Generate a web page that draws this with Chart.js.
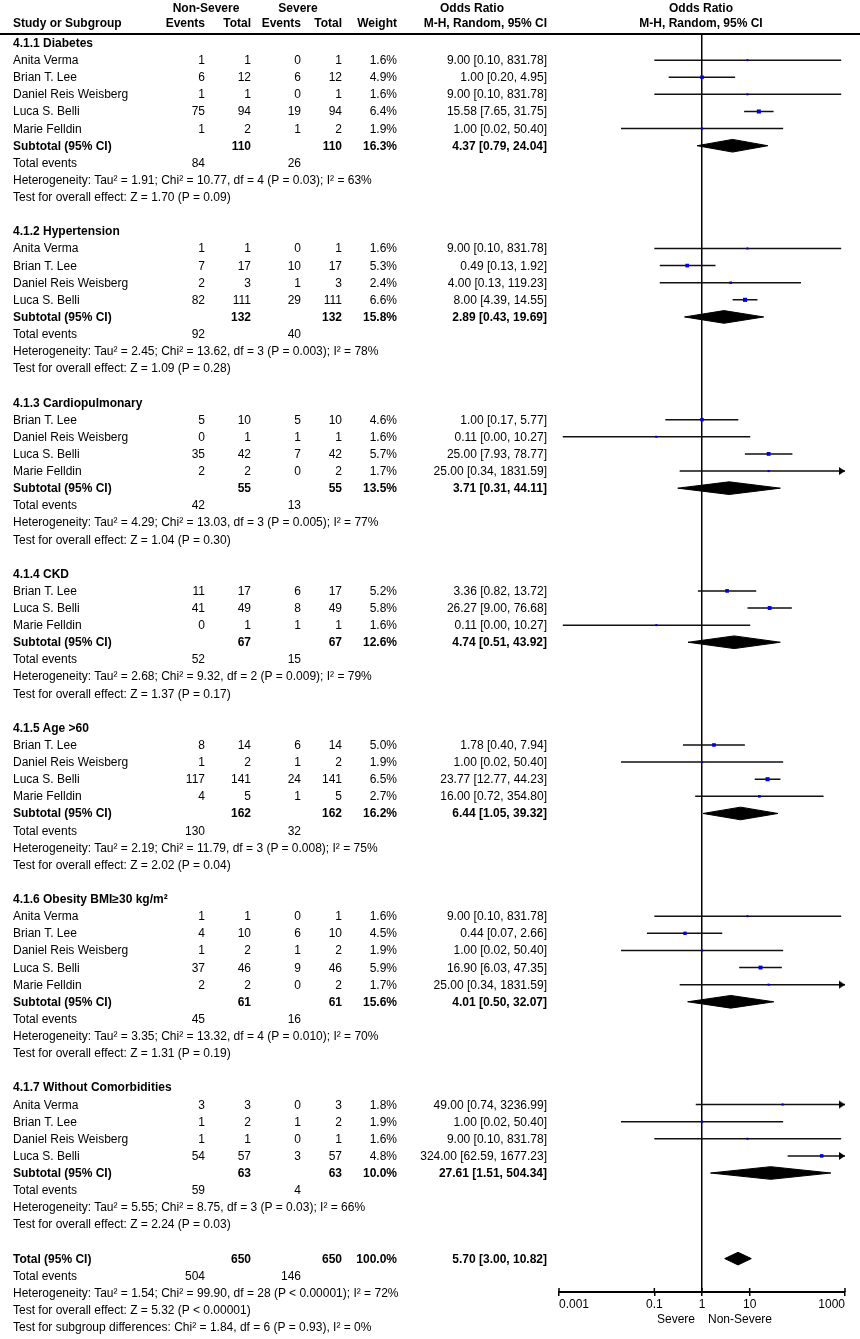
<!DOCTYPE html>
<html>
<head>
<meta charset="utf-8">
<title>Forest plot</title>
<script src="https://cdn.jsdelivr.net/npm/chart.js@4.4.0/dist/chart.umd.min.js"></script>
<style>
  body { margin: 0; background: #fff; }
  #wrap { position: relative; width: 860px; height: 1339px; overflow: hidden;
          font-family: "Liberation Sans", Arial, sans-serif; font-size: 12px; color: #000; }
  #plot { position: absolute; left: 0; top: 0; }
  .t { position: absolute; white-space: nowrap; line-height: 16px; }
  .b { font-weight: bold; }
  #rule { position: absolute; left: 0; top: 33px; width: 860px; height: 2px; background: #000; }
</style>
</head>
<body>
<div id="wrap">
  <canvas id="plot" width="860" height="1339"></canvas>
  <div id="rule"></div>
</div>
<script>
// ---- data ----
const groupTitles = ['4.1.1 Diabetes', '4.1.2 Hypertension', '4.1.3 Cardiopulmonary', '4.1.4 CKD',
  '4.1.5 Age >60', '4.1.6 Obesity BMI\u226530 kg/m\u00b2', '4.1.7 Without Comorbidities'];

const studyGroup = [0,0,0,0,0, 1,1,1,1, 2,2,2,2, 3,3,3, 4,4,4,4, 5,5,5,5,5, 6,6,6,6];
const studyNames = [
  'Anita Verma', 'Brian T. Lee', 'Daniel Reis Weisberg', 'Luca S. Belli', 'Marie Felldin',
  'Anita Verma', 'Brian T. Lee', 'Daniel Reis Weisberg', 'Luca S. Belli',
  'Brian T. Lee', 'Daniel Reis Weisberg', 'Luca S. Belli', 'Marie Felldin',
  'Brian T. Lee', 'Luca S. Belli', 'Marie Felldin',
  'Brian T. Lee', 'Daniel Reis Weisberg', 'Luca S. Belli', 'Marie Felldin',
  'Anita Verma', 'Brian T. Lee', 'Daniel Reis Weisberg', 'Luca S. Belli', 'Marie Felldin',
  'Anita Verma', 'Brian T. Lee', 'Daniel Reis Weisberg', 'Luca S. Belli'];
const nsEvents = [1,6,1,75,1, 1,7,2,82, 5,0,35,2, 11,41,0, 8,1,117,4, 1,4,1,37,2, 3,1,1,54];
const nsTotal  = [1,12,1,94,2, 1,17,3,111, 10,1,42,2, 17,49,1, 14,2,141,5, 1,10,2,46,2, 3,2,1,57];
const sEvents  = [0,6,0,19,1, 0,10,1,29, 5,1,7,0, 6,8,1, 6,1,24,1, 0,6,1,9,0, 0,1,0,3];
const sTotal   = [1,12,1,94,2, 1,17,3,111, 10,1,42,2, 17,49,1, 14,2,141,5, 1,10,2,46,2, 3,2,1,57];
const weights  = [1.6,4.9,1.6,6.4,1.9, 1.6,5.3,2.4,6.6, 4.6,1.6,5.7,1.7, 5.2,5.8,1.6,
  5.0,1.9,6.5,2.7, 1.6,4.5,1.9,5.9,1.7, 1.8,1.9,1.6,4.8];
const orVals = [9,1,9,15.58,1, 9,0.49,4,8, 1,0.11,25,25, 3.36,26.27,0.11,
  1.78,1,23.77,16, 9,0.44,1,16.9,25, 49,1,9,324];
const ciLow = [0.1,0.2,0.1,7.65,0.02, 0.1,0.13,0.13,4.39, 0.17,0.0012,7.93,0.34, 0.82,9,0.0012,
  0.4,0.02,12.77,0.72, 0.1,0.07,0.02,6.03,0.34, 0.74,0.02,0.1,62.59];
const ciHigh = [831.78,4.95,831.78,31.75,50.4, 831.78,1.92,119.23,14.55, 5.77,10.27,78.77,1831.59,
  13.72,76.68,10.27, 7.94,50.4,44.23,354.8, 831.78,2.66,50.4,47.35,1831.59,
  3236.99,50.4,831.78,1677.23];

const groupNsTotal  = [110,132,55,67,162,61,63];
const groupSTotal   = [110,132,55,67,162,61,63];
const groupWeight   = [16.3,15.8,13.5,12.6,16.2,15.6,10.0];
const groupOR       = [4.37,2.89,3.71,4.74,6.44,4.01,27.61];
const groupLow      = [0.79,0.43,0.31,0.51,1.05,0.50,1.51];
const groupHigh     = [24.04,19.69,44.11,43.92,39.32,32.07,504.34];
const groupNsEvents = [84,92,42,52,130,45,59];
const groupSEvents  = [26,40,13,15,32,16,4];
const groupHet = [
  'Heterogeneity: Tau\u00b2 = 1.91; Chi\u00b2 = 10.77, df = 4 (P = 0.03); I\u00b2 = 63%',
  'Heterogeneity: Tau\u00b2 = 2.45; Chi\u00b2 = 13.62, df = 3 (P = 0.003); I\u00b2 = 78%',
  'Heterogeneity: Tau\u00b2 = 4.29; Chi\u00b2 = 13.03, df = 3 (P = 0.005); I\u00b2 = 77%',
  'Heterogeneity: Tau\u00b2 = 2.68; Chi\u00b2 = 9.32, df = 2 (P = 0.009); I\u00b2 = 79%',
  'Heterogeneity: Tau\u00b2 = 2.19; Chi\u00b2 = 11.79, df = 3 (P = 0.008); I\u00b2 = 75%',
  'Heterogeneity: Tau\u00b2 = 3.35; Chi\u00b2 = 13.32, df = 4 (P = 0.010); I\u00b2 = 70%',
  'Heterogeneity: Tau\u00b2 = 5.55; Chi\u00b2 = 8.75, df = 3 (P = 0.03); I\u00b2 = 66%'];
const groupTest = [
  'Test for overall effect: Z = 1.70 (P = 0.09)',
  'Test for overall effect: Z = 1.09 (P = 0.28)',
  'Test for overall effect: Z = 1.04 (P = 0.30)',
  'Test for overall effect: Z = 1.37 (P = 0.17)',
  'Test for overall effect: Z = 2.02 (P = 0.04)',
  'Test for overall effect: Z = 1.31 (P = 0.19)',
  'Test for overall effect: Z = 2.24 (P = 0.03)'];

const totalNs = 650, totalS = 650, totalWeight = 100.0;
const totalOR = 5.70, totalLow = 3.00, totalHigh = 10.82;
const totalNsEvents = 504, totalSEvents = 146;
const totalHet = 'Heterogeneity: Tau\u00b2 = 1.54; Chi\u00b2 = 99.90, df = 28 (P < 0.00001); I\u00b2 = 72%';
const totalTest = 'Test for overall effect: Z = 5.32 (P < 0.00001)';
const subgroupTest = 'Test for subgroup differences: Chi\u00b2 = 1.84, df = 6 (P = 0.93), I\u00b2 = 0%';

const tickValues = [0.001, 0.1, 1, 10, 1000];
const tickLabels = ['0.001', '0.1', '1', '10', '1000'];

// ---- row layout ----
const AXIS_MIN = 0.001, AXIS_MAX = 1000;
const studyRow = [], groupRow = [];
let r = 0;
const rows = [];
groupTitles.forEach((title, g) => {
  rows.push({ kind: 'head', g: g, r: r++ });
  studyNames.forEach((n, s) => {
    if (studyGroup[s] === g) { studyRow[s] = r; rows.push({ kind: 'study', s: s, r: r++ }); }
  });
  groupRow[g] = r;
  rows.push({ kind: 'sub', g: g, r: r++ });
  rows.push({ kind: 'events', g: g, r: r++ });
  rows.push({ kind: 'het', g: g, r: r++ });
  rows.push({ kind: 'test', g: g, r: r++ });
  r++; // blank line between subgroups
});
const totalRow = r;

// ---- datasets ----
const ciData = [];
studyNames.forEach((n, s) => {
  ciData.push({ x: Math.max(ciLow[s], AXIS_MIN), y: studyRow[s] });
  ciData.push({ x: Math.min(ciHigh[s], AXIS_MAX), y: studyRow[s] });
  ciData.push({ x: 1, y: null });
});
const boxData = studyNames.map((n, s) => ({ x: orVals[s], y: studyRow[s] }));
const boxRadius = weights.map(w => 1.6 * Math.sqrt(w) * 0.7071);
const arrowData = [];
studyNames.forEach((n, s) => { if (ciHigh[s] > AXIS_MAX) arrowData.push({ x: AXIS_MAX, y: studyRow[s] }); });

// arrow head, tip at the centre of the image
const arrow = document.createElement('canvas');
arrow.width = 18; arrow.height = 10;
const actx = arrow.getContext('2d');
actx.fillStyle = '#000';
actx.beginPath(); actx.moveTo(3, 1); actx.lineTo(9, 5); actx.lineTo(3, 9); actx.closePath(); actx.fill();

const DH = 0.37; // half height of a diamond, in rows
function diamond(or, lo, hi, row) {
  return {
    data: [{ x: lo, y: row }, { x: or, y: row - DH }, { x: hi, y: row }, { x: or, y: row + DH }, { x: lo, y: row }],
    showLine: true, fill: 'shape', backgroundColor: '#000', borderColor: '#000',
    borderWidth: 1, pointRadius: 0, order: 3
  };
}

const datasets = [
  { data: boxData, pointStyle: 'rect', pointRadius: boxRadius, backgroundColor: '#0000dd',
    borderWidth: 0, order: 0 },
  { data: arrowData, pointStyle: arrow, pointRadius: 5, order: 1 },
  { data: ciData, showLine: true, spanGaps: false, borderColor: '#111', borderWidth: 1.5,
    pointRadius: 0, order: 2 }
];
groupOR.forEach((v, g) => datasets.push(diamond(v, groupLow[g], groupHigh[g], groupRow[g])));
datasets.push(diamond(totalOR, totalLow, totalHigh, totalRow));

// small upward half of the axis tick marks
const tickMarksUp = {
  id: 'tickMarksUp',
  afterDraw(chart) {
    const xs = chart.scales.x, ctx = chart.ctx, yb = chart.chartArea.bottom;
    ctx.save();
    ctx.strokeStyle = '#000';
    ctx.lineWidth = 1.5;
    tickValues.forEach(v => {
      const px = xs.getPixelForValue(v);
      ctx.beginPath(); ctx.moveTo(px, yb - 4); ctx.lineTo(px, yb); ctx.stroke();
    });
    ctx.restore();
  }
};

Chart.defaults.font.family = '"Liberation Sans", Arial, sans-serif';
Chart.defaults.font.size = 12;
Chart.defaults.color = '#000';

const chart = new Chart(document.getElementById('plot'), {
  type: 'scatter',
  data: { datasets: datasets },
  options: {
    responsive: false,
    animation: false,
    devicePixelRatio: 1,
    layout: { padding: { left: 559, right: 15, top: 34, bottom: 0 } },
    plugins: { legend: { display: false }, tooltip: { enabled: false } },
    scales: {
      x: {
        type: 'logarithmic', position: 'bottom', min: AXIS_MIN, max: AXIS_MAX,
        afterBuildTicks: s => { s.ticks = tickValues.map(v => ({ value: v })); },
        afterFit: s => { s.height = 47; },
        ticks: {
          autoSkip: false, maxRotation: 0, padding: 1, color: '#000', align: 'inner',
          callback: v => { const i = tickValues.indexOf(v); return i >= 0 ? tickLabels[i] : ''; }
        },
        grid: {
          color: c => (c.tick && c.tick.value === 1) ? '#000' : 'rgba(0,0,0,0)',
          lineWidth: 1.5, tickColor: '#000', tickLength: 4, tickWidth: 1.5
        },
        border: { display: true, color: '#000', width: 2 }
      },
      // rows: row 0 sits 9px below the header rule, 17.12px per row
      y: { type: 'linear', display: false, reverse: true, min: -0.526, max: 72.95 }
    }
  },
  plugins: [tickMarksUp]
});

// ---- table text ----
const wrap = document.getElementById('wrap');
function put(text, x, y, align, bold) {
  const d = document.createElement('div');
  d.className = 't' + (bold ? ' b' : '');
  d.textContent = text;
  d.style.top = (y - 8) + 'px';
  if (align === 'right') {
    d.style.right = (860 - x) + 'px';
  } else if (align === 'center') {
    d.style.left = (x - 150) + 'px'; d.style.width = '300px'; d.style.textAlign = 'center';
  } else {
    d.style.left = x + 'px';
  }
  wrap.appendChild(d);
}
const C = { name: 13, nsEv: 205, nsTot: 251, sEv: 301, sTot: 342, wt: 397, or: 547 };
const fmtCI = (o, l, h) => o.toFixed(2) + ' [' + l.toFixed(2) + ', ' + h.toFixed(2) + ']';
const yPix = i => chart.scales.y.getPixelForValue(i);

// header
put('Non-Severe', 206, 8, 'center', true);
put('Severe', 298, 8, 'center', true);
put('Odds Ratio', 472, 8, 'center', true);
put('Odds Ratio', 701, 8, 'center', true);
put('Study or Subgroup', C.name, 23, 'left', true);
put('Events', C.nsEv, 23, 'right', true);
put('Total', C.nsTot, 23, 'right', true);
put('Events', C.sEv, 23, 'right', true);
put('Total', C.sTot, 23, 'right', true);
put('Weight', C.wt, 23, 'right', true);
put('M-H, Random, 95% CI', C.or, 23, 'right', true);
put('M-H, Random, 95% CI', 701, 23, 'center', true);

rows.forEach(row => {
  const y = yPix(row.r);
  const g = row.g, s = row.s;
  if (row.kind === 'head') {
    put(groupTitles[g], C.name, y, 'left', true);
  } else if (row.kind === 'study') {
    put(studyNames[s], C.name, y, 'left');
    put(String(nsEvents[s]), C.nsEv, y, 'right');
    put(String(nsTotal[s]), C.nsTot, y, 'right');
    put(String(sEvents[s]), C.sEv, y, 'right');
    put(String(sTotal[s]), C.sTot, y, 'right');
    put(weights[s].toFixed(1) + '%', C.wt, y, 'right');
    put(fmtCI(orVals[s], ciLow[s], ciHigh[s]), C.or, y, 'right');
  } else if (row.kind === 'sub') {
    put('Subtotal (95% CI)', C.name, y, 'left', true);
    put(String(groupNsTotal[g]), C.nsTot, y, 'right', true);
    put(String(groupSTotal[g]), C.sTot, y, 'right', true);
    put(groupWeight[g].toFixed(1) + '%', C.wt, y, 'right', true);
    put(fmtCI(groupOR[g], groupLow[g], groupHigh[g]), C.or, y, 'right', true);
  } else if (row.kind === 'events') {
    put('Total events', C.name, y, 'left');
    put(String(groupNsEvents[g]), C.nsEv, y, 'right');
    put(String(groupSEvents[g]), C.sEv, y, 'right');
  } else if (row.kind === 'het') {
    put(groupHet[g], C.name, y, 'left');
  } else if (row.kind === 'test') {
    put(groupTest[g], C.name, y, 'left');
  }
});

let y = yPix(totalRow);
put('Total (95% CI)', C.name, y, 'left', true);
put(String(totalNs), C.nsTot, y, 'right', true);
put(String(totalS), C.sTot, y, 'right', true);
put(totalWeight.toFixed(1) + '%', C.wt, y, 'right', true);
put(fmtCI(totalOR, totalLow, totalHigh), C.or, y, 'right', true);
y = yPix(totalRow + 1);
put('Total events', C.name, y, 'left');
put(String(totalNsEvents), C.nsEv, y, 'right');
put(String(totalSEvents), C.sEv, y, 'right');
put(totalHet, C.name, yPix(totalRow + 2), 'left');
put(totalTest, C.name, yPix(totalRow + 3), 'left');
put(subgroupTest, C.name, Math.min(yPix(totalRow + 4), 1329), 'left');

// axis side labels
put('Severe', 695, 1319, 'right');
put('Non-Severe', 708, 1319, 'left');
</script>
</body>
</html>
